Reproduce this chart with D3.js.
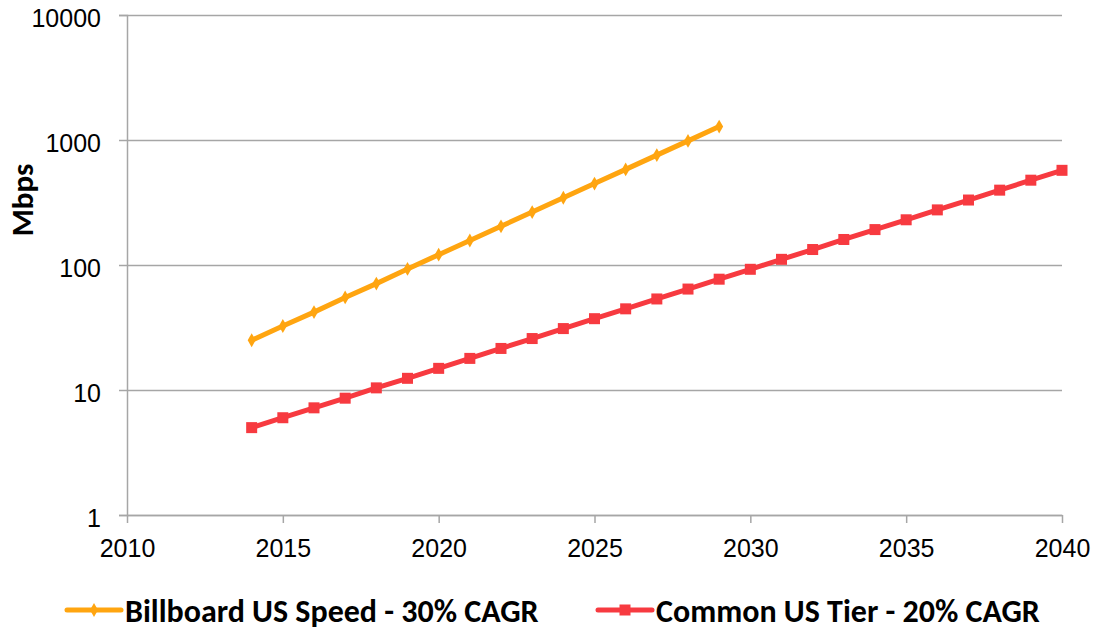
<!DOCTYPE html>
<html>
<head>
<meta charset="utf-8">
<script src="https://cdn.jsdelivr.net/npm/d3@7"></script>
<style>
  body { margin: 0; background: #fff; }
  svg { display: block; font-family: Carlito, Lato, "Open Sans", sans-serif; }
</style>
</head>
<body>
<div id="chart"></div>
<script>
// data ----------------------------------------------------------------------
const billboardYears = [2014, 2015, 2016, 2017, 2018, 2019, 2020, 2021, 2022, 2023, 2024, 2025, 2026, 2027, 2028, 2029];
const billboardMbps = [25, 32.5, 42, 55, 71, 93, 121, 157, 204, 265, 345, 448, 582, 757, 984, 1280];
const commonYears = [2014, 2015, 2016, 2017, 2018, 2019, 2020, 2021, 2022, 2023, 2024, 2025, 2026, 2027,
  2028, 2029, 2030, 2031, 2032, 2033, 2034, 2035, 2036, 2037, 2038, 2039, 2040];
const commonMbps = [5, 6, 7.2, 8.6, 10.4, 12.4, 14.9, 17.9, 21.5, 25.8, 31, 37.2, 44.6, 53.5,
  64.2, 77, 92.4, 111, 133, 160, 192, 230, 276, 331, 397, 477, 572];
const xTicks = [2010, 2015, 2020, 2025, 2030, 2035, 2040];
const yTicks = [1, 10, 100, 1000, 10000];
const seriesNames = ['Billboard US Speed - 30% CAGR', 'Common US Tier - 20% CAGR'];

// layout ---------------------------------------------------------------------
const width = 1096, height = 630;
const margin = { top: 15, right: 34, bottom: 115, left: 127 };
const orange = '#FFA510', red = '#F73A40', grid = '#A6A6A6';

const svg = d3.select('#chart').append('svg')
  .attr('width', width)
  .attr('height', height);

const xScale = d3.scaleLinear()
  .domain([2010, 2040])
  .range([margin.left, width - margin.right]);
const yScale = d3.scaleLog()
  .domain([1, 10000])
  .range([height - margin.bottom, margin.top]);

// y axis + gridlines
const yAxis = svg.append('g')
  .attr('transform', 'translate(' + margin.left + ',0)')
  .call(d3.axisLeft(yScale).tickValues(yTicks).tickFormat(d3.format('d'))
    .tickSize(8).tickPadding(18));
yAxis.select('.domain').attr('stroke', grid).attr('stroke-width', 1.5);
yAxis.selectAll('.tick line').attr('stroke', grid).attr('stroke-width', 1.5);
yAxis.selectAll('.tick').append('line')
  .attr('x1', 0).attr('x2', width - margin.right - margin.left)
  .attr('stroke', grid).attr('stroke-width', 1.5);
yAxis.selectAll('text').attr('font-size', '25px').attr('fill', '#000').attr('dy', '0.45em');

// x axis
const xAxis = svg.append('g')
  .attr('transform', 'translate(0,' + (height - margin.bottom) + ')')
  .call(d3.axisBottom(xScale).tickValues(xTicks).tickFormat(d3.format('d'))
    .tickSize(8).tickPadding(16).tickSizeOuter(0));
xAxis.select('.domain').attr('stroke', grid).attr('stroke-width', 1.5);
xAxis.selectAll('.tick line').attr('stroke', grid).attr('stroke-width', 1.5);
xAxis.selectAll('text').attr('font-size', '25px').attr('fill', '#000');

// y label
svg.append('text')
  .attr('transform', 'translate(33,' + 200 + ') rotate(-90)')
  .attr('text-anchor', 'middle')
  .attr('font-size', '31px')
  .attr('font-weight', 'bold')
  .text('Mbps');

// lines ------------------------------------------------------------------------
const line = d3.line()
  .x(d => xScale(d[0]))
  .y(d => yScale(d[1]));
const billboard = billboardYears.map((y, i) => [y, billboardMbps[i]]);
const common = commonYears.map((y, i) => [y, commonMbps[i]]);

svg.append('path').datum(billboard)
  .attr('fill', 'none').attr('stroke', orange).attr('stroke-width', 5)
  .attr('stroke-linejoin', 'round').attr('d', line);
svg.append('g').selectAll('path').data(billboard).enter().append('path')
  .attr('transform', d => 'translate(' + xScale(d[0]) + ',' + yScale(d[1]) + ')')
  .attr('d', d3.symbol().type(d3.symbolDiamond).size(55))
  .attr('fill', orange);

svg.append('path').datum(common)
  .attr('fill', 'none').attr('stroke', red).attr('stroke-width', 5)
  .attr('stroke-linejoin', 'round').attr('d', line);
svg.append('g').selectAll('rect').data(common).enter().append('rect')
  .attr('x', d => xScale(d[0]) - 5.5).attr('y', d => yScale(d[1]) - 5.5)
  .attr('width', 11).attr('height', 11)
  .attr('fill', red);

// legend -----------------------------------------------------------------------
const legend = [
  { x: 67, color: orange, marker: 'diamond' },
  { x: 598, color: red, marker: 'square' }
];
legend.forEach((l, i) => {
  const g = svg.append('g').attr('transform', 'translate(' + l.x + ',610)');
  g.append('line').attr('x1', 0).attr('x2', 54)
    .attr('stroke', l.color).attr('stroke-width', 5).attr('stroke-linecap', 'round');
  if (l.marker === 'diamond') {
    g.append('path').attr('transform', 'translate(27,0)')
      .attr('d', d3.symbol().type(d3.symbolDiamond).size(55)).attr('fill', l.color);
  } else {
    g.append('rect').attr('x', 21.5).attr('y', -5.5).attr('width', 11).attr('height', 11).attr('fill', l.color);
  }
  g.append('text').attr('x', 58).attr('y', 12)
    .attr('font-size', '32px').attr('font-weight', 'bold')
    .text(seriesNames[i]);
});
</script>
</body>
</html>
